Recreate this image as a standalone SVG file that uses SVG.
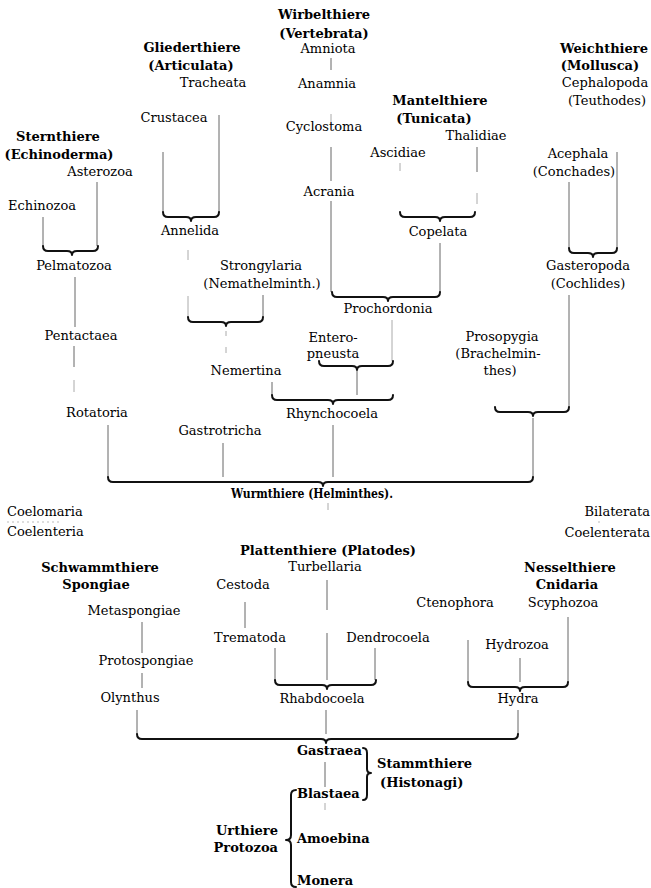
<svg xmlns="http://www.w3.org/2000/svg" width="651" height="888" viewBox="0 0 651 888">
<style>
text{font-family:"DejaVu Serif","Liberation Serif",serif;font-size:13px;fill:#000;text-anchor:middle}
.b{font-weight:bold}
.s{text-anchor:start}
.e{text-anchor:end}
.ln{stroke:#666;stroke-width:1;fill:none}
.fl{stroke:#aaa;stroke-width:1;fill:none}
.br{stroke:#111;stroke-width:2;fill:none;stroke-linecap:round;stroke-linejoin:round}
.dt{stroke:#bbb;stroke-width:1;fill:none;stroke-dasharray:2 3}
</style>
<rect width="651" height="888" fill="#fff"/>
<g id="connectors">
<path class="ln" d="M97,182V246M43,217V246M75,277V327M74,346V367"/>
<path class="fl" d="M74,380V392"/>
<path class="ln" d="M108,425V477M223,443V477"/>
<path class="ln" d="M219,115V212M163,152V212M263,295V317"/>
<path class="fl" d="M188,250V260M188,296V317M226,331V336M226,347V353"/>
<path class="ln" d="M331,58V70M331,147V181M331,201V292"/>
<path class="fl" d="M331,114V122"/>
<path class="ln" d="M477,147V172M440,243V292"/>
<path class="fl" d="M477,193V204M400,163V171M392,320V361"/>
<path class="ln" d="M272,382V395M357,371V395M333,425V477"/>
<path class="ln" d="M617,152V248M569,182V248M569,295V407M533,418V477"/>
<path class="fl" d="M328,503V510"/>
<path class="ln" d="M327,580V610M327,633V680M245,602V628M275,648V680M375,648V680"/>
<path class="ln" d="M142,622V653M142,673V688M137,710V734M326,710V734M518,710V734"/>
<path class="ln" d="M468,640V682M520,658V682M568,617V682"/>
<path class="ln" d="M325,762V787"/>
<path class="fl" d="M325,803V810"/>
<path class="dt" d="M7,522H60M598,522H603"/>
<path class="br" d="M43,246Q43,251 48,251L67,251Q72,251 72,255Q72,251 77,251L93,251Q98,251 98,246"/>
<path class="br" d="M163,212Q163,217 168,217L186,217Q191,217 191,221Q191,217 196,217L214,217Q219,217 219,212"/>
<path class="br" d="M400,212Q400,217 405,217L435,217Q440,217 440,221Q440,217 445,217L470,217Q475,217 475,212"/>
<path class="br" d="M569,248Q569,253 574,253L588,253Q593,253 593,257Q593,253 598,253L612,253Q617,253 617,248"/>
<path class="br" d="M188,317Q188,322 193,322L221,322Q226,322 226,326Q226,322 231,322L258,322Q263,322 263,317"/>
<path class="br" d="M332,292Q332,297 337,297L383,297Q388,297 388,301Q388,297 393,297L435,297Q440,297 440,292"/>
<path class="br" d="M319,361Q319,366 324,366L352,366Q357,366 357,370Q357,366 362,366L388,366Q393,366 393,361"/>
<path class="br" d="M272,395Q272,400 277,400L328,400Q333,400 333,404Q333,400 338,400L388,400Q393,400 393,395"/>
<path class="br" d="M495,407Q495,412 500,412L528,412Q533,412 533,416Q533,412 538,412L564,412Q569,412 569,407"/>
<path class="br" d="M108,477Q108,482 113,482L318,482Q323,482 323,486Q323,482 328,482L528,482Q533,482 533,477"/>
<path class="br" d="M275,680Q275,685 280,685L322,685Q327,685 327,689Q327,685 332,685L371,685Q376,685 376,680"/>
<path class="br" d="M468,682Q468,687 473,687L515,687Q520,687 520,691Q520,687 525,687L563,687Q568,687 568,682"/>
<path class="br" d="M137,734Q137,739 142,739L321,739Q326,739 326,743Q326,739 331,739L513,739Q518,739 518,734"/>
<path class="br" d="M363,748Q367,748 367,753L367,769Q367,773 371,773Q367,773 367,777L367,795Q367,800 363,800"/>
<path class="br" d="M296,790Q291,790 291,795L291,835Q291,840 286,840Q291,840 291,845L291,882Q291,887 296,887"/>
</g>
<g id="vertebrata"><text class="b" x="324" y="19">Wirbelthiere</text><text class="b" x="324" y="38">(Vertebrata)</text></g>
<g id="amniota"><text x="328" y="53">Amniota</text></g>
<g id="anamnia"><text x="327" y="88">Anamnia</text></g>
<g id="cyclostoma"><text x="324" y="131">Cyclostoma</text></g>
<g id="acrania"><text x="329" y="196">Acrania</text></g>
<g id="articulata"><text class="b" x="192" y="52">Gliederthiere</text><text class="b" x="191" y="70">(Articulata)</text></g>
<g id="tracheata"><text x="213" y="87">Tracheata</text></g>
<g id="crustacea"><text x="174" y="122">Crustacea</text></g>
<g id="echinoderma"><text class="b" x="58" y="141">Sternthiere</text><text class="b" x="59" y="159">(Echinoderma)</text></g>
<g id="asterozoa"><text x="100" y="176">Asterozoa</text></g>
<g id="echinozoa"><text x="42" y="210">Echinozoa</text></g>
<g id="tunicata"><text class="b" x="440" y="105">Mantelthiere</text><text class="b" x="434" y="123">(Tunicata)</text></g>
<g id="thalidiae"><text x="476" y="140">Thalidiae</text></g>
<g id="ascidiae"><text x="398" y="157">Ascidiae</text></g>
<g id="mollusca"><text class="b" x="604" y="53">Weichthiere</text><text class="b" x="600" y="70">(Mollusca)</text></g>
<g id="cephalopoda"><text x="605" y="87">Cephalopoda</text><text x="607" y="105">(Teuthodes)</text></g>
<g id="acephala"><text x="578" y="158">Acephala</text><text x="574" y="176">(Conchades)</text></g>
<g id="annelida"><text x="190" y="235">Annelida</text></g>
<g id="copelata"><text x="438" y="236">Copelata</text></g>
<g id="pelmatozoa"><text x="74" y="270">Pelmatozoa</text></g>
<g id="strongylaria"><text x="261" y="270">Strongylaria</text><text x="262" y="288">(Nemathelminth.)</text></g>
<g id="gasteropoda"><text x="588" y="270">Gasteropoda</text><text x="588" y="288">(Cochlides)</text></g>
<g id="prochordonia"><text x="388" y="313">Prochordonia</text></g>
<g id="pentactaea"><text x="81" y="340">Pentactaea</text></g>
<g id="enteropneusta"><text x="333" y="342">Entero-</text><text x="333" y="358">pneusta</text></g>
<g id="prosopygia"><text x="502" y="341">Prosopygia</text><text x="498" y="358">(Brachelmin-</text><text x="500" y="375">thes)</text></g>
<g id="nemertina"><text x="246" y="375">Nemertina</text></g>
<g id="rotatoria"><text x="97" y="417">Rotatoria</text></g>
<g id="rhynchocoela"><text x="332" y="418">Rhynchocoela</text></g>
<g id="gastrotricha"><text x="220" y="435">Gastrotricha</text></g>
<g id="helminthes"><text class="b" x="312" y="498" textLength="162" lengthAdjust="spacingAndGlyphs">Wurmthiere (Helminthes).</text></g>
<g id="coelomaria"><text class="s" x="7" y="516">Coelomaria</text><text class="s" x="7" y="536">Coelenteria</text></g>
<g id="bilaterata"><text class="e" x="650" y="516">Bilaterata</text><text class="e" x="650" y="537">Coelenterata</text></g>
<g id="platodes"><text class="b" x="328" y="555">Plattenthiere (Platodes)</text></g>
<g id="turbellaria"><text x="325" y="571">Turbellaria</text></g>
<g id="spongiae"><text class="b" x="100" y="572">Schwammthiere</text><text class="b" x="96" y="589">Spongiae</text></g>
<g id="cestoda"><text x="243" y="589">Cestoda</text></g>
<g id="metaspongiae"><text x="134" y="615">Metaspongiae</text></g>
<g id="trematoda"><text x="250" y="642">Trematoda</text></g>
<g id="dendrocoela"><text x="388" y="642">Dendrocoela</text></g>
<g id="protospongiae"><text x="146" y="665">Protospongiae</text></g>
<g id="olynthus"><text x="130" y="702">Olynthus</text></g>
<g id="rhabdocoela"><text x="322" y="703">Rhabdocoela</text></g>
<g id="cnidaria"><text class="b" x="570" y="572">Nesselthiere</text><text class="b" x="567" y="589">Cnidaria</text></g>
<g id="ctenophora"><text x="455" y="607">Ctenophora</text></g>
<g id="scyphozoa"><text x="563" y="607">Scyphozoa</text></g>
<g id="hydrozoa"><text x="517" y="649">Hydrozoa</text></g>
<g id="hydra"><text x="518" y="703">Hydra</text></g>
<g id="gastraea"><text class="b s" x="297" y="755">Gastraea</text></g>
<g id="histonagi"><text class="b s" x="377" y="768">Stammthiere</text><text class="b s" x="380" y="787">(Histonagi)</text></g>
<g id="blastaea"><text class="b s" x="297" y="798">Blastaea</text></g>
<g id="amoebina"><text class="b s" x="297" y="843">Amoebina</text></g>
<g id="monera"><text class="b s" x="297" y="885">Monera</text></g>
<g id="protozoa"><text class="b e" x="278" y="835">Urthiere</text><text class="b e" x="278" y="852">Protozoa</text></g>
</svg>
